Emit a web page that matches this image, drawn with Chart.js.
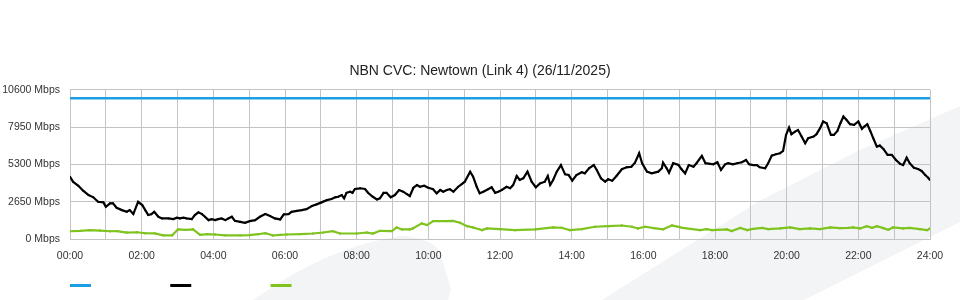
<!DOCTYPE html>
<html>
<head>
<meta charset="utf-8">
<script src="https://cdn.jsdelivr.net/npm/chart.js@4.4.1/dist/chart.umd.min.js"></script>
<style>
  html, body { margin: 0; padding: 0; background: #fff; }
  #wrap { width: 960px; height: 300px; }
</style>
</head>
<body>
<div id="wrap"><canvas id="cvcChart" width="960" height="300"></canvas></div>
<script>
// === NBN CVC utilisation, one day, minutes since midnight ===

const xTickLabels = ["00:00", "02:00", "04:00", "06:00", "08:00", "10:00", "12:00",
  "14:00", "16:00", "18:00", "20:00", "22:00", "24:00"];
const yTickValues = [0, 2650, 5300, 7950, 10600];

// CVC capacity (blue)
const capacityTimes = [0, 1440];
const capacityValues = [10000, 10000];

// traffic (black)
const trafficTimes = [0, 5, 14, 22, 31, 39, 47, 56, 60, 67, 72, 78, 87, 95, 100, 106, 114, 121, 126, 131,
  136, 141, 148, 154, 165, 173, 179, 184, 190, 195, 204, 209, 215, 221, 226, 232, 237, 243, 248, 254,
  260, 265, 271, 276, 285, 293, 301, 310, 318, 327, 335, 343, 352, 358, 366, 371, 380, 388, 396, 405,
  413, 421, 430, 438, 444, 449, 455, 459, 463, 469, 473, 477, 486, 494, 499, 507, 514, 519, 525, 530,
  537, 544, 551, 558, 564, 569, 575, 581, 586, 593, 600, 608, 614, 620, 625, 631, 636, 642, 650, 656,
  661, 670, 675, 681, 686, 692, 700, 706, 712, 717, 723, 731, 737, 742, 748, 753, 759, 766, 773, 780,
  787, 795, 800, 804, 809, 815, 822, 829, 835, 841, 848, 857, 862, 869, 877, 882, 889, 896, 901, 908,
  915, 924, 932, 940, 946, 953, 958, 966, 974, 985, 991, 993, 999, 1003, 1010, 1019, 1024, 1030, 1036, 1044,
  1049, 1058, 1064, 1072, 1077, 1084, 1090, 1097, 1102, 1110, 1117, 1125, 1132, 1137, 1144, 1150, 1155, 1164, 1169, 1175,
  1182, 1189, 1194, 1199, 1204, 1208, 1214, 1219, 1225, 1231, 1236, 1245, 1250, 1256, 1261, 1267, 1274, 1279, 1285, 1290,
  1295, 1300, 1306, 1313, 1320, 1326, 1330, 1335, 1340, 1345, 1351, 1356, 1362, 1369, 1376, 1383, 1390, 1395, 1401, 1406,
  1413, 1420, 1426, 1432, 1437, 1440];
const trafficValues = [4430, 4080, 3790, 3440, 3130, 2970, 2650, 2610, 2300, 2540, 2540, 2230, 2060, 1940, 2060, 1780, 2650, 2420, 2060, 1710,
  1760, 1940, 1590, 1470, 1470, 1420, 1520, 1470, 1520, 1470, 1420, 1710, 1900, 1780, 1590, 1350, 1420, 1350, 1420, 1470,
  1350, 1470, 1590, 1300, 1230, 1160, 1280, 1350, 1590, 1780, 1640, 1470, 1400, 1760, 1780, 1940, 2010, 2060, 2130, 2350,
  2470, 2610, 2770, 2850, 2970, 3010, 3130, 2900, 3290, 3370, 3290, 3560, 3610, 3560, 3290, 3010, 2820, 2900, 3290, 3290,
  2970, 3130, 3490, 3370, 3200, 3060, 3650, 3840, 3720, 3790, 3650, 3540, 3250, 3490, 3370, 3490, 3540, 3370, 3720, 3910,
  4080, 4790, 4430, 3720, 3250, 3370, 3540, 3680, 3290, 3370, 3490, 3720, 3610, 3840, 4480, 4200, 4320, 4790, 4080, 3680,
  3960, 4080, 4480, 3840, 4200, 4790, 5260, 4600, 4550, 4150, 4550, 4750, 4670, 5030, 5260, 4910, 4320, 4080, 4250, 4150,
  4480, 4960, 5100, 5140, 5430, 6100, 5390, 4790, 4670, 4790, 5030, 5430, 5030, 4720, 5390, 5260, 4960, 4670, 5260, 5140,
  5390, 5910, 5390, 5340, 5310, 5460, 4910, 5310, 5390, 5310, 5390, 5460, 5620, 5310, 5260, 5260, 5100, 5030, 5390, 5930,
  6030, 6100, 6260, 7400, 7920, 7450, 7630, 7750, 7280, 6810, 7160, 7280, 7450, 7880, 8350, 8230, 7400, 7400, 7680, 8230,
  8700, 8470, 8160, 8110, 8350, 7830, 7990, 8160, 7680, 7160, 6570, 6640, 6400, 5980, 5980, 5620, 5340, 5260, 5780, 5390,
  5070, 4980, 4840, 4550, 4360, 4200];

// green series
const greenTimes = [0, 17, 33, 50, 67, 79, 95, 112, 126, 142, 156, 171, 181, 194, 206, 218, 229, 243, 260, 285,
  301, 315, 327, 340, 352, 363, 385, 407, 424, 440, 452, 480, 497, 507, 519, 539, 547, 556, 569, 574,
  589, 598, 608, 631, 641, 653, 665, 675, 690, 698, 720, 745, 779, 809, 823, 837, 857, 879, 901, 924,
  941, 951, 963, 978, 993, 1008, 1026, 1055, 1066, 1075, 1100, 1108, 1122, 1134, 1144, 1159, 1169, 1189, 1206, 1222,
  1239, 1256, 1273, 1289, 1303, 1311, 1323, 1334, 1343, 1351, 1362, 1370, 1378, 1395, 1406, 1423, 1435, 1440];
const greenValues = [560, 590, 640, 610, 560, 570, 470, 490, 420, 410, 270, 270, 700, 660, 700, 300, 360, 330, 270, 270,
  290, 350, 420, 260, 300, 330, 360, 400, 470, 570, 400, 400, 470, 400, 590, 570, 830, 690, 690, 760,
  1120, 1000, 1280, 1280, 1300, 1160, 920, 830, 640, 760, 710, 640, 690, 830, 810, 640, 710, 880, 920, 970,
  880, 760, 880, 780, 700, 980, 800, 640, 710, 640, 690, 570, 800, 640, 730, 800, 710, 760, 830, 710,
  760, 710, 830, 780, 800, 830, 760, 920, 800, 920, 780, 660, 830, 760, 800, 710, 640, 760];

const toPoints = (times, values) => times.map((t, i) => ({ x: t, y: values[i] }));

// light grey watermark shapes behind the chart
const watermark = {
  id: "watermark",
  beforeDraw(chart) {
    const ctx = chart.ctx;
    ctx.save();
    ctx.fillStyle = "#fff";
    ctx.fillRect(0, 0, chart.width, chart.height);
    ctx.fillStyle = "#f3f4f6";
    ctx.beginPath();
    ctx.moveTo(253, 300);
    ctx.quadraticCurveTo(330, 245, 402, 236);
    ctx.quadraticCurveTo(432, 238, 440, 252);
    ctx.lineTo(451, 290);
    ctx.lineTo(448, 300);
    ctx.closePath();
    ctx.fill();
    ctx.beginPath();
    ctx.moveTo(602, 300);
    ctx.lineTo(640, 276);
    ctx.lineTo(761, 200);
    ctx.lineTo(860, 150);
    ctx.lineTo(960, 106);
    ctx.lineTo(960, 222);
    ctx.lineTo(804, 300);
    ctx.closePath();
    ctx.fill();
    ctx.restore();
  }
};

const font = { family: "'Liberation Sans', Arial, sans-serif", size: 10.5 };
const gridColor = "#c4c4c4";

new Chart(document.getElementById("cvcChart").getContext("2d"), {
  type: "line",
  data: {
    datasets: [
      {
        label: "Capacity",
        data: toPoints(capacityTimes, capacityValues),
        borderColor: "#1c9fe2",
        backgroundColor: "#1c9fe2",
        borderWidth: 2.5,
        pointRadius: 0
      },
      {
        label: "Traffic",
        data: toPoints(trafficTimes, trafficValues),
        borderColor: "#000",
        backgroundColor: "#000",
        borderWidth: 2.2,
        pointRadius: 1,
        pointBorderWidth: 0
      },
      {
        label: "Other",
        data: toPoints(greenTimes, greenValues),
        borderColor: "#7fc31f",
        backgroundColor: "#7fc31f",
        borderWidth: 2.2,
        pointRadius: 1.2,
        pointBorderWidth: 0
      }
    ]
  },
  options: {
    responsive: false,
    animation: false,
    layout: { padding: { top: 63, left: 30, right: 30, bottom: 0 } },
    scales: {
      x: {
        type: "linear",
        min: 0,
        max: 1440,
        afterBuildTicks: (scale) => {
          scale.ticks = [];
          for (let m = 0; m <= 1440; m += 60) scale.ticks.push({ value: m });
        },
        ticks: {
          autoSkip: false,
          maxRotation: 0,
          padding: 11,
          color: "#333",
          font: font,
          callback: (v) => (v % 120 === 0 ? xTickLabels[v / 120] : "")
        },
        grid: { color: gridColor, drawTicks: false },
        border: { color: gridColor }
      },
      y: {
        min: 0,
        max: 10600,
        afterBuildTicks: (scale) => {
          scale.ticks = yTickValues.map((v) => ({ value: v }));
        },
        // narrow axis box; mirrored labels pulled back out to the left, right-aligned
        afterFit: (scale) => { scale.width = 40; },
        ticks: {
          mirror: true,
          crossAlign: "far",
          padding: -67.8,
          color: "#333",
          font: font,
          callback: (v) => v + " Mbps"
        },
        grid: { color: gridColor, drawTicks: false },
        border: { color: gridColor }
      }
    },
    plugins: {
      title: {
        display: true,
        text: "NBN CVC: Newtown (Link 4) (26/11/2025)",
        color: "#222",
        font: { family: "'Liberation Sans', Arial, sans-serif", size: 14, weight: "normal" },
        padding: { top: 0, bottom: 10 }
      },
      legend: {
        position: "bottom",
        align: "start",
        labels: {
          boxWidth: 21,
          boxHeight: 3,
          padding: 7.25,
          font: { family: "'Liberation Sans', Arial, sans-serif", size: 9 },
          generateLabels: (chart) => {
            // spacer keeps the swatches lined up with the plot's left edge
            const items = [{ text: "", fillStyle: "rgba(0,0,0,0)", strokeStyle: "rgba(0,0,0,0)", lineWidth: 0, datasetIndex: -1 }];
            chart.data.datasets.forEach((ds, i) => {
              items.push({
                text: "\u0020".repeat(27),
                fillStyle: ds.borderColor,
                strokeStyle: ds.borderColor,
                lineWidth: 0,
                hidden: false,
                datasetIndex: i
              });
            });
            return items;
          }
        },
        onClick: () => {}
      },
      tooltip: { enabled: false }
    }
  },
  plugins: [watermark]
});
</script>
</body>
</html>
